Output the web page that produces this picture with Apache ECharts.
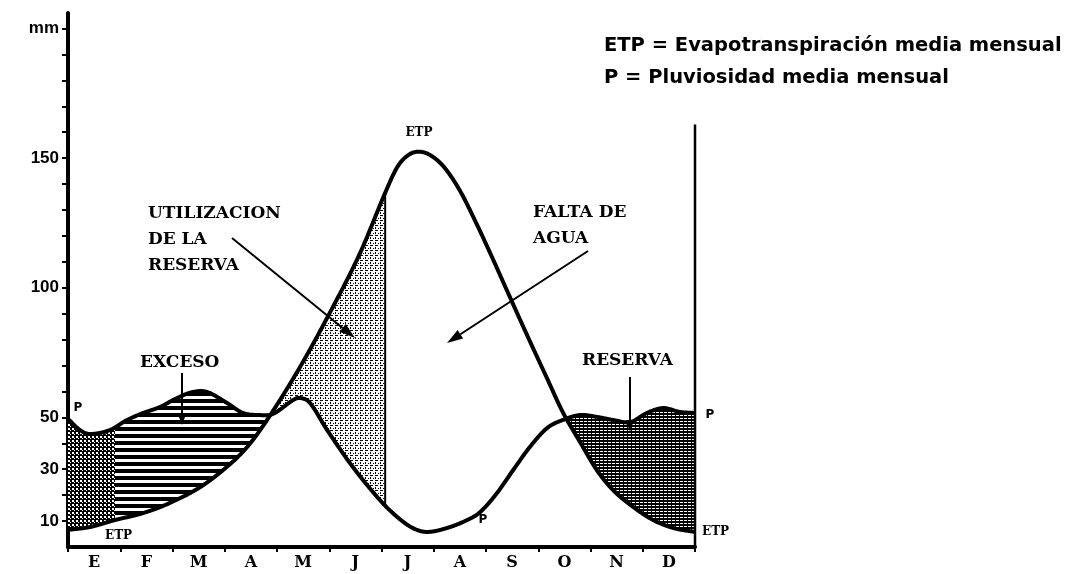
<!DOCTYPE html>
<html>
<head>
<meta charset="utf-8">
<title>Balance hídrico</title>
<script src="https://cdn.jsdelivr.net/npm/echarts@6.0.0/dist/echarts.min.js"></script>
<style>
html,body{margin:0;padding:0;background:#fff;}
#chart{width:1070px;height:574px;}
</style>
</head>
<body>
<div id="chart"></div>
<script>
// ---------------- data ----------------
const months = ['E','F','M','A','M','J','J','A','S','O','N','D'];
const yTickValues = [10,20,30,40,50,60,70,80,90,100,110,120,130,140,150,160,170,180,190,200];
const yLabelValues = [10,30,50,100,150,200];
const yLabelText = ['10','30','50','100','150','mm'];

// P = Pluviosidad media mensual (position in months from start of E, mm)
const pMonth = [0,0.23,0.42,0.8,1.13,1.44,1.76,2.09,2.39,2.66,3.04,3.35,3.67,3.92,4.31,4.44,4.63,4.96,5.45,5.97,6.3,6.6,6.87,7.25,7.64,7.89,8.21,8.52,8.84,9.17,9.47,9.8,10.12,10.43,10.76,11.08,11.39,11.71,12];
const pMM = [49.4,45.1,43.6,45.1,49.0,51.7,54.0,57.5,59.8,59.8,55.6,51.7,50.9,51.3,56.7,57.5,55.6,45.1,30.9,18.1,11.6,7.3,5.8,7.3,10.4,13.5,20.8,29.7,38.6,45.9,49.0,50.9,50.2,49.0,48.2,51.7,53.6,52.1,51.7];

// ETP = Evapotranspiración media mensual
const etpMonth = [0,0.42,0.9,1.44,1.95,2.53,3.04,3.43,3.81,4.44,5.07,5.59,6.07,6.3,6.5,6.7,6.93,7.2,7.5,7.8,8.1,8.4,8.78,9.17,9.47,9.8,10.12,10.43,10.82,11.2,11.59,12];
const etpMM = [6.6,7.7,10.4,13.1,17.0,23.1,30.9,38.6,49.0,69.4,92.6,113.4,136.6,146.5,151,152.5,151.2,146.5,137.5,125.5,112.5,99,82,65,52,40.5,29.7,22.0,15.4,10.4,7.3,5.8];

// shaded zones between the two curves (month positions)
const zoneFrom = [0, 0.9, 3.86, 9.5];
const zoneTo   = [0.9, 3.86, 6.07, 12];
const zoneFill = ['dense', 'stripes', 'light', 'grid'];
const dividerMonth = 6.07;
const frameTopMM = 163;

// ---------------- helpers ----------------
function spline(xs, ys) {
  const n = xs.length, m = new Array(n);
  for (let i = 0; i < n; i++) {
    if (i === 0) m[i] = (ys[1] - ys[0]) / (xs[1] - xs[0]);
    else if (i === n - 1) m[i] = (ys[n - 1] - ys[n - 2]) / (xs[n - 1] - xs[n - 2]);
    else m[i] = (ys[i + 1] - ys[i - 1]) / (xs[i + 1] - xs[i - 1]);
  }
  return function (x) {
    let i = 0;
    while (i < n - 2 && x > xs[i + 1]) i++;
    const h = xs[i + 1] - xs[i], t = (x - xs[i]) / h, t2 = t * t, t3 = t2 * t;
    return (2*t3 - 3*t2 + 1) * ys[i] + (t3 - 2*t2 + t) * h * m[i] +
           (-2*t3 + 3*t2) * ys[i + 1] + (t3 - t2) * h * m[i + 1];
  };
}
function makePattern(w, h, bg, fg, cells) {
  const c = document.createElement('canvas');
  c.width = w; c.height = h;
  const g = c.getContext('2d');
  g.fillStyle = bg; g.fillRect(0, 0, w, h);
  g.fillStyle = fg;
  cells.forEach(function (r) { g.fillRect(r[0], r[1], r[2], r[3]); });
  return { image: c, repeat: 'repeat' };
}
const patterns = {
  dense: makePattern(4, 4, '#000', '#fff', [[0,0,2,2],[2,2,1,1]]),
  stripes: makePattern(8, 7, '#000', '#fff', [[0,4,8,3]]),
  light: makePattern(5, 5, '#fff', '#000', [[0,0,3,1],[0,2,1,2],[3,3,1,1]]),
  grid: makePattern(4, 3, '#000', '#fff', [[0,1,3,1]])
};

const pF = spline(pMonth, pMM);
const eF = spline(etpMonth, etpMM);
const STEP = 0.01;

function renderItem(params, api) {
  const children = [];
  // zone fills
  for (let z = 0; z < zoneFrom.length; z++) {
    const a = zoneFrom[z], b = zoneTo[z];
    const up = [], lo = [];
    for (let x = a; x < b + STEP / 2; x += STEP) {
      const xx = Math.min(x, b);
      const v1 = pF(xx), v2 = eF(xx);
      up.push(api.coord([xx, Math.max(v1, v2)]));
      lo.push(api.coord([xx, Math.min(v1, v2)]));
    }
    children.push({
      type: 'polygon',
      shape: { points: up.concat(lo.reverse()) },
      style: { fill: patterns[zoneFill[z]], stroke: null, lineWidth: 0 }
    });
  }
  // divider between "utilizacion" and "falta de agua"
  const d1 = api.coord([dividerMonth, pF(dividerMonth)]);
  const d2 = api.coord([dividerMonth, eF(dividerMonth)]);
  children.push({ type: 'line', shape: { x1: d1[0], y1: d1[1], x2: d2[0], y2: d2[1] },
    style: { stroke: '#000', lineWidth: 2 } });
  // right frame line
  const r1 = api.coord([12, 0]), r2 = api.coord([12, frameTopMM]);
  children.push({ type: 'line', shape: { x1: r1[0], y1: r1[1], x2: r2[0], y2: r2[1] },
    style: { stroke: '#000', lineWidth: 2.5 } });
  // curves
  [pF, eF].forEach(function (f) {
    const pts = [];
    for (let x = 0; x < 12 + STEP / 2; x += STEP) {
      const xx = Math.min(x, 12);
      pts.push(api.coord([xx, f(xx)]));
    }
    children.push({ type: 'polyline', shape: { points: pts },
      style: { stroke: '#000', lineWidth: 4, fill: 'none', lineJoin: 'round', lineCap: 'butt' } });
  });
  return { type: 'group', children: children };
}

function txt(text, x, y, font, align) {
  return { type: 'text', x: x, y: y, z: 100, silent: true,
    style: { text: text, font: font, fill: '#000', align: align || 'left', verticalAlign: 'middle' } };
}
function arrow(x1, y1, x2, y2, len, half, w) {
  const dx = x2 - x1, dy = y2 - y1, L = Math.hypot(dx, dy), ux = dx / L, uy = dy / L;
  const bx = x2 - ux * len, by = y2 - uy * len;
  return [
    { type: 'line', z: 100, silent: true, shape: { x1: x1, y1: y1, x2: bx, y2: by }, style: { stroke: '#000', lineWidth: w } },
    { type: 'polygon', z: 100, silent: true, shape: { points: [[x2, y2], [bx - uy * half, by + ux * half], [bx + uy * half, by - ux * half]] }, style: { fill: '#000' } }
  ];
}

const SERIF = 'bold 17px "DejaVu Serif"';
const SMALL_SERIF = 'bold 12px "DejaVu Serif"';
const PFONT = 'bold 12px "DejaVu Sans"';
const LEGEND = 'bold 19.5px "DejaVu Sans"';

const graphics = [
  txt('ETP = Evapotranspiración media mensual', 604, 46, LEGEND),
  txt('P = Pluviosidad media mensual', 604, 78, LEGEND),
  txt('UTILIZACION', 148, 214, SERIF),
  txt('DE LA', 148, 240, SERIF),
  txt('RESERVA', 148, 266, SERIF),
  txt('FALTA DE', 533, 213, SERIF),
  txt('AGUA', 533, 239, SERIF),
  txt('EXCESO', 140, 363, SERIF),
  txt('RESERVA', 582, 361, SERIF),
  txt('ETP', 419, 133, SMALL_SERIF, 'center'),
  txt('ETP', 105, 536, SMALL_SERIF),
  txt('ETP', 702, 532, SMALL_SERIF),
  txt('P', 78, 408, PFONT, 'center'),
  txt('P', 483, 520, PFONT, 'center'),
  txt('P', 710, 415, PFONT, 'center')
].concat(
  arrow(232, 238, 355, 338, 16, 5, 2),
  arrow(588, 251, 447, 343, 16, 5, 2),
  arrow(182, 373, 182, 425, 8, 3, 2),
  arrow(630, 377, 630, 432, 12, 4, 2)
);

const chart = echarts.init(document.getElementById('chart'), null, { renderer: 'canvas' });
chart.setOption({
  animation: false,
  backgroundColor: '#fff',
  grid: { left: 68, right: 375, top: 13, bottom: 27, containLabel: false, outerBoundsMode: 'none' },
  xAxis: [
    { type: 'category', data: months, boundaryGap: true, position: 'bottom',
      axisLine: { show: true, onZero: false, lineStyle: { color: '#000', width: 4 } },
      axisTick: { show: true, length: 5, lineStyle: { color: '#000', width: 2 } },
      axisLabel: { color: '#000', fontFamily: 'DejaVu Serif', fontWeight: 'bold', fontSize: 16, margin: 8 },
      splitLine: { show: false } },
    { type: 'value', min: 0, max: 12, show: false }
  ],
  yAxis: [
    { type: 'value', min: 0, max: 206,
      axisLine: { show: true, lineStyle: { color: '#000', width: 4 } },
      axisTick: { show: true, length: 6, lineStyle: { color: '#000', width: 2 }, customValues: yTickValues },
      axisLabel: { customValues: yLabelValues, color: '#000', fontFamily: 'Liberation Sans', fontWeight: 'bold', fontSize: 17, margin: 9,
        formatter: function (v) { const i = yLabelValues.indexOf(v); return i >= 0 ? yLabelText[i] : ''; } },
      splitLine: { show: false } }
  ],
  series: [
    { type: 'custom', name: 'P y ETP', xAxisIndex: 1, yAxisIndex: 0, data: [[0, 0]],
      renderItem: renderItem, silent: true, clip: false, z: 2 }
  ],
  graphic: graphics
});
</script>
</body>
</html>
